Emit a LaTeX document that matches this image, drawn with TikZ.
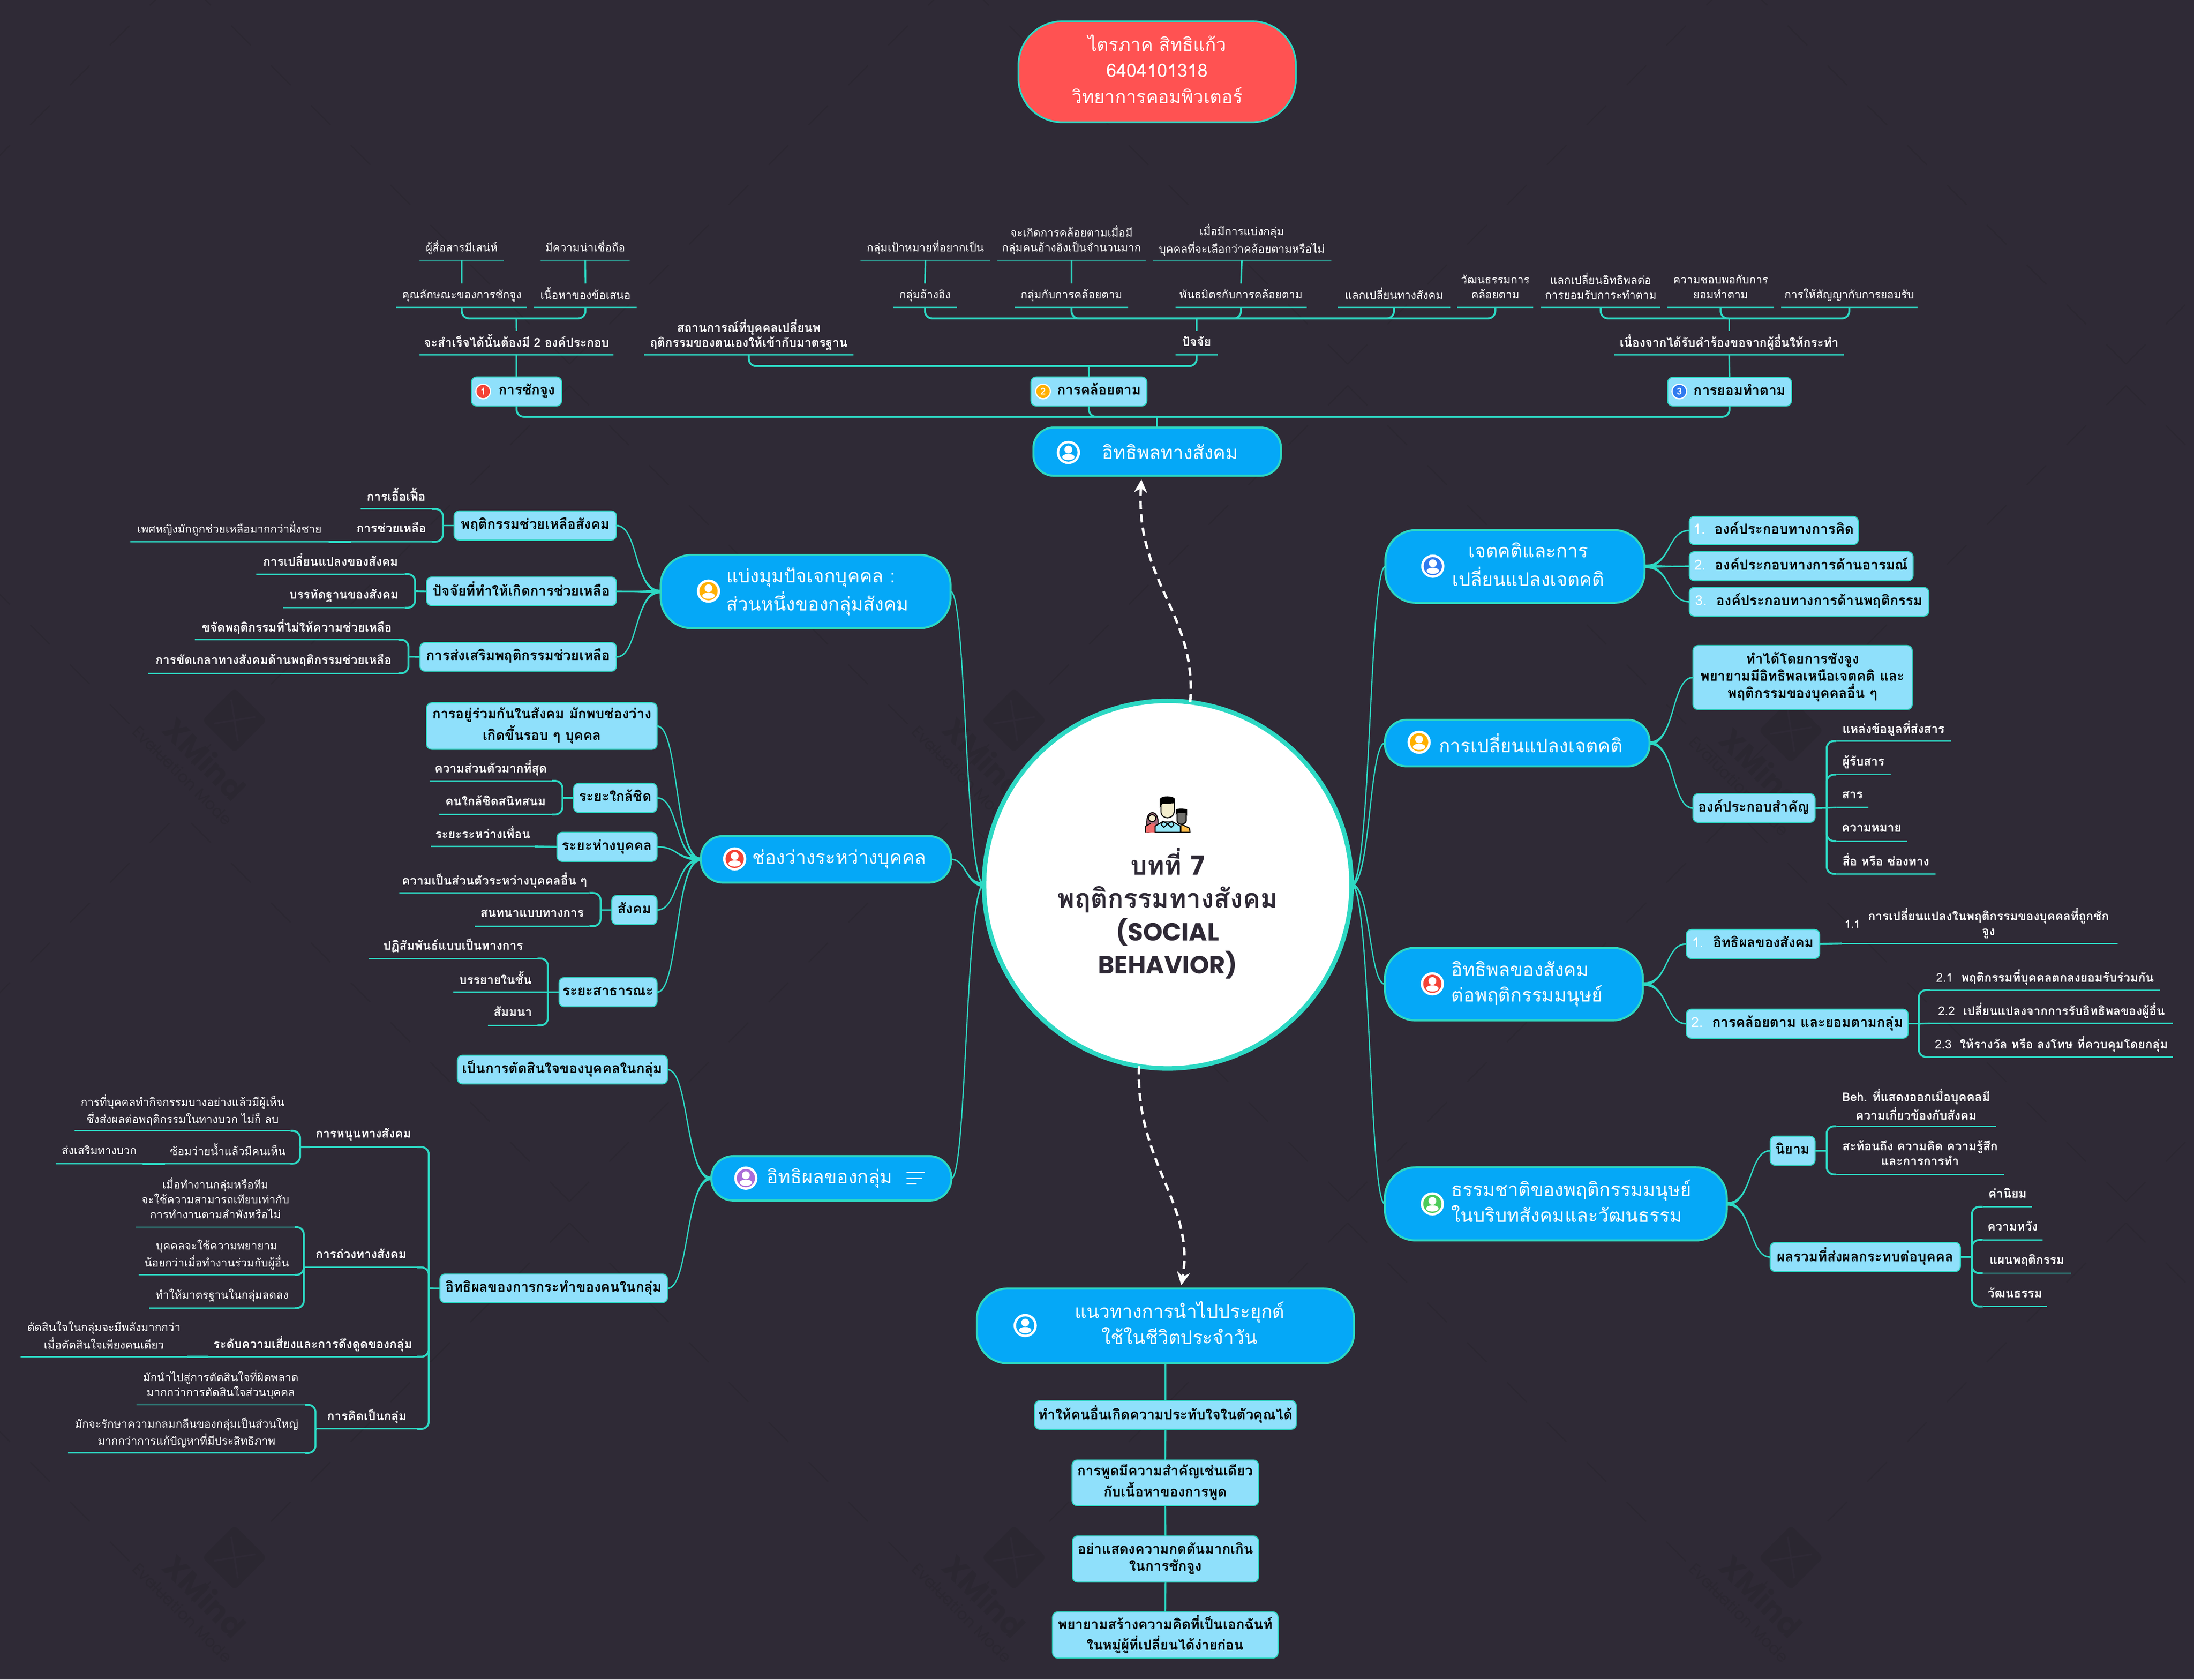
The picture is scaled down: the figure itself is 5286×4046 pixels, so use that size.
\documentclass[tikz,border=0pt]{standalone}
\usepackage{fontspec}
\usetikzlibrary{arrows.meta,calc}
\setmainfont[Script=Thai]{Loma}
\newfontfamily\popp{Poppins}
\definecolor{bgc}{HTML}{2F2A36}
\definecolor{wmc}{HTML}{2B2731}
\definecolor{tl}{HTML}{2DD8C3}
\definecolor{mainc}{HTML}{05A8F7}
\definecolor{boxc}{HTML}{8FE0FB}
\definecolor{redc}{HTML}{FF5252}
\definecolor{ic1}{HTML}{F44336}
\definecolor{ic2}{HTML}{FFB000}
\definecolor{ic3}{HTML}{2F7BEF}
\definecolor{ic4}{HTML}{4CCB5A}
\definecolor{ic5}{HTML}{AB6DD8}
\newcommand\fsleaf{\fontsize{7.6}{10.24}\selectfont}
\newcommand\fsleafb{\fontsize{8.3}{10.24}\selectfont}
\newcommand\fsbox{\fontsize{9.5}{11.7}\selectfont}
\newcommand\fsmain{\fontsize{12.8}{17.6}\selectfont}
\tikzset{
 every node/.style={inner sep=0pt,outer sep=0pt},
 link/.style={draw=tl,line width=1.1pt},
 brk/.style={draw=tl,line width=1.3pt,rounded corners=5pt},
 ul/.style={draw=tl,line width=.85pt},
 lfr/.style={text=white,align=center,font=\fsleaf},
 lfb/.style={text=white,align=center,font=\fsleafb\bfseries},
 boxs/.style={fill=boxc,draw=tl,line width=.7pt,rounded corners=3.5pt,text=black,align=center,font=\fsbox\bfseries},
 mains/.style={fill=mainc,draw=tl,line width=1.4pt},
 mt/.style={text=white,font=\fsmain},
 dashlink/.style={draw=white,line width=1.7pt,dash pattern=on 5.6pt off 3.6pt,-{Stealth[length=9pt,width=9pt]}},
 badge/.style={circle,draw=white,line width=.8pt,minimum size=10pt,text=white,font=\fontsize{6.5}{7}\selectfont\bfseries},
}
% name x1 x2 yunderline nlines text
\newcommand\leaf[7][lfr]{%
 \node[#1,anchor=south,minimum width={(#4-#3)*0.28453pt},minimum height={(22+36*#6)*0.28453pt}] (#2) at ({(#3+#4)/2},#5) {\strut#7\strut};
 \draw[ul] (#2.south west) -- (#2.south east);}
% name x1 y1 x2 y2 text
\newcommand\bx[6]{%
 \node[boxs,minimum width={(#4-#2)*0.28453pt},minimum height={(#5-#3)*0.28453pt}] (#1) at ({(#2+#4)/2},{(#3+#5)/2}) {\strut#6\strut};}
% name x1 y1 x2 y2 radius(pt)
\newcommand\mainb[6]{%
 \node[mains,rounded corners=#6,minimum width={(#4-#2)*0.28453pt},minimum height={(#5-#3)*0.28453pt}] (#1) at ({(#2+#4)/2},{(#3+#5)/2}) {};}
% tapered curve: A B dx half
\newcommand\lnk[4]{%
 \path[fill=tl,draw=tl,line width=.8pt] ([shift={(0,-#4)}]#1) .. controls ([shift={({0.6*(#3)},0)}]#1) and ([shift={({-0.5*(#3)},0)}]#2) .. ([shift={(0,-.5)}]#2) -- ([shift={(0,.5)}]#2) .. controls ([shift={({-0.5*(#3)},0)}]#2) and ([shift={({0.6*(#3)},0)}]#1) .. ([shift={(0,#4)}]#1) -- cycle;}
\newcommand\usericon[3]{%
 \begin{scope}[shift={(#1,#2)}]
 \fill[white] (0,0) circle[radius=28];
 \fill[#3] (0,0) circle[radius=22];
 \fill[white] (0,-7) circle[radius=9.5];
 \fill[white] (0,11) ellipse[x radius=15,y radius=7.5];
 \end{scope}}
\newcommand\wmark[2]{%
 \begin{scope}[shift={(#1,#2)}]
 \fill[wmc,rounded corners=3pt,rotate=45] (-55,-55) rectangle (55,55);
 \draw[bgc,line width=1.2pt] (-8,-50) -- (8,50);
 \draw[bgc,line width=1.2pt] (-50,8) -- (50,-8);
 \node[text=wmc,rotate=-45,font=\popp\fontsize{21}{24}\selectfont\bfseries] (wx#1#2) at (-71,92) {XMind};
 \node[text=wmc,rotate=-45,font=\popp\fontsize{11}{13}\selectfont] (wy#1#2) at (-125,133) {Evaluation Mode};
 \end{scope}}
\begin{document}
\begin{tikzpicture}[x=0.01cm,y=-0.01cm]
\useasboundingbox (0,0) rectangle (5286,4046);
\fill[bgc] (0,0) rectangle (5286,4046);
\begin{scope}
\clip (0,0) rectangle (5286,4046);
\foreach \i in {-1,0,1,2}{\foreach \j in {-1,0,1}{
 \pgfmathsetmacro\cx{1372+1875*\i}
 \pgfmathsetmacro\cy{908+2017*\j}
 \foreach \k in {0,...,9}{
  \pgfmathsetmacro\a{96*\k}
  \pgfmathsetmacro\b{96*\k+47}
  \draw[wmc,line width=.8pt] (\cx-\a,\cy-31-\a) -- (\cx-\b,\cy-31-\b);
  \draw[wmc,line width=.8pt] (\cx+\a,\cy-31-\a) -- (\cx+\b,\cy-31-\b);
  \draw[wmc,line width=.8pt] (\cx-\a,\cy+21+\a) -- (\cx-\b,\cy+21+\b);
  \draw[wmc,line width=.8pt] (\cx+\a,\cy+21+\a) -- (\cx+\b,\cy+21+\b);
 }}}
\wmark{565}{1735}\wmark{2443}{1735}\wmark{4315}{1760}
\wmark{565}{3752}\wmark{2443}{3752}\wmark{4315}{3752}
\end{scope}
% ---------- title
\node[fill=redc,draw=tl,line width=1.2pt,rounded corners=30pt,minimum width={668*0.28453pt},minimum height={243*0.28453pt},text=white,align=center,font=\fontsize{12.5}{17.9}\selectfont] (title) at (2788,173) {\strut ไตรภาค สิทธิแก้ว\\6404101318\\วิทยาการคอมพิวเตอร์\strut};
% ---------- root
\node[circle,fill=white,draw=tl,line width=3.1pt,minimum size={885*0.28453pt}] (root) at (2813.5,2131) {};
\node[text=bgc,align=center,font=\fontsize{18}{22.6}\selectfont\bfseries] (roottxt) at (2813,2206) {\strut บทที่ {\popp 7}\\พฤติกรรมทางสังคม\\{\popp\fontsize{17}{22.6}\selectfont (SOCIAL}\\{\popp\fontsize{17}{22.6}\selectfont BEHAVIOR)}\strut};
% root icon
\begin{scope}[line width=.7pt,draw=black,line join=round]
 \filldraw[fill={rgb,255:red,160;green,104;blue,122}] (2763,2005) -- (2763,1980) .. controls (2763,1950) and (2790,1950) .. (2790,1980) -- (2790,2000) -- cycle;
 \fill[fill={rgb,255:red,242;green,107;blue,107}] (2760,2005) -- (2760,1990) -- (2772,1984) -- (2782,1984) -- (2786,2005) -- cycle;
 \draw (2760,2005) -- (2760,1990) -- (2772,1984);
 \filldraw[fill={rgb,255:red,245;green,237;blue,205}] (2776,1971) circle[radius=8.5];
 \filldraw[fill={rgb,255:red,112;green,112;blue,108}] (2836,1955) -- (2836,1978) .. controls (2838,1988) and (2854,1988) .. (2858,1978) -- (2858,1955) -- cycle;
 \fill[black] (2833,1963) -- (2833,1950) .. controls (2835,1947) and (2855,1947) .. (2860,1950) -- (2860,1965) -- (2856,1958) -- (2836,1958) -- cycle;
 \filldraw[fill={rgb,255:red,255;green,192;blue,77}] (2845,2005) -- (2845,1985) -- (2866,1995) -- (2867,2005) -- cycle;
 \filldraw[fill={rgb,255:red,152;green,232;blue,248}] (2783,2005) -- (2783,1990) -- (2800,1980) -- (2826,1980) -- (2844,1990) -- (2844,2005) -- cycle;
 \draw (2813,1985) -- (2802,1978) -- (2798,1987) -- (2804,1993) -- (2813,1985) -- (2824,1978) -- (2828,1987) -- (2822,1993) -- cycle;
 \filldraw[fill={rgb,255:red,243;green,237;blue,205}] (2797,1932) -- (2797,1955) .. controls (2798,1975) and (2827,1975) .. (2829,1955) -- (2829,1932) -- cycle;
 \fill[black] (2794,1946) -- (2794,1925) .. controls (2800,1915) and (2828,1917) .. (2831,1925) -- (2831,1946) -- (2828,1935) -- (2800,1937) -- cycle;
\end{scope}
% ---------- main nodes
\mainb{mT}{2490}{1030}{3086}{1146}{14pt}
\mainb{mR1}{3338}{1277}{3962}{1452}{21pt}
\mainb{mR2}{3337}{1734}{3974}{1846}{15pt}
\mainb{mR3}{3337}{2283}{3958}{2458}{21pt}
\mainb{mR4}{3337}{2812}{4160}{2988}{21pt}
\mainb{mL1}{1592}{1337}{2290}{1513}{21pt}
\mainb{mL2}{1689}{2014}{2291}{2126}{15pt}
\mainb{mL3}{1714}{2785}{2292}{2892}{15pt}
\mainb{mB}{2354}{3104}{3262}{3284}{21pt}
\node[mt] (mTt) at (2819,1088) {อิทธิพลทางสังคม};
\node[mt,align=center] (mR1t) at (3682,1365) {\strut เจตคติและการ\\เปลี่ยนแปลงเจตคติ\strut};
\node[mt] (mR2t) at (3688,1790) {การเปลี่ยนแปลงเจตคติ};
\node[mt,align=left,anchor=west] (mR3t) at (3497,2370) {\strut อิทธิพลของสังคม\\ต่อพฤติกรรมมนุษย์\strut};
\node[mt,align=left,anchor=west] (mR4t) at (3497,2900) {\strut ธรรมชาติของพฤติกรรมมนุษย์\\ในบริบทสังคมและวัฒนธรรม\strut};
\node[mt,align=left,anchor=west] (mL1t) at (1750,1425) {\strut แบ่งมุมปัจเจกบุคคล :\\ส่วนหนึ่งของกลุ่มสังคม\strut};
\node[mt] (mL2t) at (2022,2070) {ช่องว่างระหว่างบุคคล};
\node[mt] (mL3t) at (1999,2838) {อิทธิผลของกลุ่ม};
\node[mt,align=center] (mBt) at (2842,3194) {\strut แนวทางการนำไปประยุกต์\\ใช้ในชีวิตประจำวัน\strut};
\usericon{2574}{1090}{mainc}
\usericon{3452}{1364}{ic3}
\usericon{3419}{1788}{ic2}
\usericon{3451}{2370}{ic1}
\usericon{3451}{2900}{ic4}
\usericon{1707}{1424}{ic2}
\usericon{1770}{2069}{ic1}
\usericon{1797}{2838}{ic5}
\usericon{2470}{3193}{mainc}
\draw[white,line width=.9pt] (2184,2824) -- (2228,2824) (2184,2838) -- (2222,2838) (2184,2852) -- (2208,2852);
% ---------- top branch
\bx{n1}{1136}{908}{1353}{978}{\hspace*{14pt}การชักจูง}
\bx{n2}{2484}{908}{2763}{978}{\hspace*{14pt}การคล้อยตาม}
\bx{n3}{4018}{909}{4316}{978}{\hspace*{14pt}การยอมทำตาม}
\node[badge,fill=ic1] (b1) at (1164,943) {1};
\node[badge,fill=ic2] (b2) at (2513,943) {2};
\node[badge,fill=ic3] (b3) at (4046,943) {3};
\coordinate (tj) at (2788,1004);
\draw[link] (mT.north) -- (tj);
\draw[brk] (n1.south) |- (tj);
\draw[brk] (n2.south) |- (tj);
\draw[brk] (n3.south) |- (tj);
% node 1
\leaf[lfb]{a0}{1011}{1478}{855}{1}{จะสำเร็จได้นั้นต้องมี 2 องค์ประกอบ}
\leaf{a1}{955}{1270}{741}{1}{คุณลักษณะของการชักจูง}
\leaf{a2}{1287}{1534}{741}{1}{เนื้อหาของข้อเสนอ}
\leaf{a3}{1011}{1214}{627}{1}{ผู้สื่อสารมีเสน่ห์}
\leaf{a4}{1303}{1517}{627}{1}{มีความน่าเชื่อถือ}
\coordinate (aj) at (1244,767);
\draw[link] (n1.north) -- (a0.south);
\draw[link] (a0.north) -- (aj);
\draw[brk] (a1.south) |- (aj);
\draw[brk] (a2.south) |- (aj);
\draw[link] (a1.north) -- (a3.south);
\draw[link] (a2.north) -- (a4.south);
% node 2
\leaf[lfb]{c0}{1552}{2056}{855}{2}{สถานการณ์ที่บุคคลเปลี่ยนพ\\ฤติกรรมของตนเองให้เข้ากับมาตรฐาน}
\leaf[lfb]{c1}{2832}{2934}{855}{1}{ปัจจัย}
\coordinate (cj) at (2623,882);
\draw[link] (n2.north) -- (cj);
\draw[brk] (c0.south) |- (cj);
\draw[brk] (c1.south) |- (cj);
\coordinate (dj) at (2883,767);
\draw[link] (c1.north) -- (dj);
\leaf{d1}{2151}{2306}{741}{1}{กลุ่มอ้างอิง}
\leaf{d2}{2445}{2718}{741}{1}{กลุ่มกับการคล้อยตาม}
\leaf{d3}{2832}{3148}{741}{1}{พันธมิตรกับการคล้อยตาม}
\leaf{d4}{3223}{3494}{741}{1}{แลกเปลี่ยนทางสังคม}
\leaf{d5}{3511}{3694}{741}{2}{วัฒนธรรมการ\\คล้อยตาม}
\draw[brk] (d1.south) |- (dj);
\draw[brk] (d2.south) |- (dj);
\draw[brk] (d3.south) |- (dj);
\draw[brk] (d4.south) |- (dj);
\draw[brk] (d5.south) |- (dj);
\leaf{e1}{2073}{2386}{627}{1}{กลุ่มเป้าหมายที่อยากเป็น}
\leaf{e2}{2403}{2760}{627}{2}{จะเกิดการคล้อยตามเมื่อมี\\กลุ่มคนอ้างอิงเป็นจำนวนมาก}
\leaf{e3}{2777}{3207}{627}{2}{เมื่อมีการแบ่งกลุ่ม\\บุคคลที่จะเลือกว่าคล้อยตามหรือไม่}
\draw[link] (d1.north) -- (e1.south);
\draw[link] (d2.north) -- (e2.south);
\draw[link] (d3.north) -- (e3.south);
% node 3
\leaf[lfb]{g0}{3890}{4442}{855}{1}{เนื่องจากได้รับคำร้องขอจากผู้อื่นให้กระทำ}
\coordinate (gj) at (4166,767);
\draw[link] (n3.north) -- (g0.south);
\draw[link] (g0.north) -- (gj);
\leaf{g1}{3713}{4000}{741}{2}{แลกเปลี่ยนอิทธิพลต่อ\\การยอมรับการะทำตาม}
\leaf{g2}{4017}{4274}{741}{2}{ความชอบพอกับการ\\ยอมทำตาม}
\leaf{g3}{4291}{4620}{741}{1}{การให้สัญญากับการยอมรับ}
\draw[brk] (g1.south) |- (gj);
\draw[brk] (g2.south) |- (gj);
\draw[brk] (g3.south) |- (gj);
\draw[dashlink] (root.83) .. controls (2885,1480) and (2735,1400) .. ([shift={(-38,9)}]mT.south);
\draw[dashlink] (root.261) .. controls (2735,2800) and (2880,2900) .. ([shift={(38,-8)}]mB.north);
% ---------- root links
\lnk{root.east}{mR1.west}{78}{2}
\lnk{root.east}{mR2.west}{77}{2}
\lnk{root.east}{mR3.west}{77}{2}
\lnk{root.east}{mR4.west}{77}{2}
\lnk{root.west}{mL1.east}{-77}{2}
\lnk{root.west}{mL2.east}{-76}{5}
\lnk{root.west}{mL3.east}{-75}{2}
% ---------- R1
\bx{r11}{4070}{1244}{4477}{1312}{{\color{white}\mdseries 1.}\ \ องค์ประกอบทางการคิด}
\bx{r12}{4070}{1329}{4609}{1399}{{\color{white}\mdseries 2.}\ \ องค์ประกอบทางการด้านอารมณ์}
\bx{r13}{4070}{1415}{4647}{1484}{{\color{white}\mdseries 3.}\ \ องค์ประกอบทางการด้านพฤติกรรม}
\lnk{mR1.east}{r11.west}{108}{3}
\lnk{mR1.east}{r12.west}{108}{3}
\lnk{mR1.east}{r13.west}{108}{3}
% ---------- R2
\bx{r21}{4079}{1555}{4607}{1709}{ทำได้โดยการชังจูง\\พยายามมีอิทธิพลเหนือเจตคติ และ\\พฤติกรรมของบุคคลอื่น ๆ}
\bx{r22}{4079}{1912}{4373}{1981}{องค์ประกอบสำคัญ}
\lnk{mR2.east}{r21.west}{105}{3}
\lnk{mR2.east}{r22.west}{105}{3}
\leaf[lfb]{r2a}{4424}{4700}{1785}{1}{แหล่งข้อมูลที่ส่งสาร}
\leaf[lfb]{r2b}{4424}{4555}{1866}{1}{ผู้รับสาร}
\leaf[lfb]{r2c}{4424}{4502}{1945}{1}{สาร}
\leaf[lfb]{r2d}{4424}{4594}{2026}{1}{ความหมาย}
\leaf[lfb]{r2e}{4424}{4663}{2105}{1}{สื่อ หรือ ช่องทาง}
\coordinate (r2j) at (4401,1946);
\draw[link] (r22.east) -- (r2j);
\draw[brk] (r2a.south west) -| (r2j);
\draw[brk] (r2b.south west) -| (r2j);
\draw[link] (r2c.south west) -- (r2j);
\draw[brk] (r2d.south west) -| (r2j);
\draw[brk] (r2e.south west) -| (r2j);
% ---------- R3
\bx{r31}{4063}{2239}{4384}{2309}{{\color{white}\mdseries 1.}\ \ อิทธิผลของสังคม}
\bx{r32}{4063}{2431}{4597}{2501}{{\color{white}\mdseries 2.}\ \ การคล้อยตาม และยอมตามกลุ่ม}
\lnk{mR3.east}{r31.west}{105}{3}
\lnk{mR3.east}{r32.west}{105}{3}
\leaf[lfb]{r31a}{4437}{5102}{2273}{2}{}
\node[lfr] (r31n) at (4463,2226) {1.1};
\node[lfb] (r31t) at (4791,2226) {\strut การเปลี่ยนแปลงในพฤติกรรมของบุคคลที่ถูกชัก\\จูง\strut};
\draw[link,line width=1.4pt] (r31.east) -- (r31a.south west);
\leaf[lfb]{r32a}{4650}{5204}{2385}{1}{{\mdseries 2.1}\ \ พฤติกรรมที่บุคคลตกลงยอมรับร่วมกัน}
\leaf[lfb]{r32b}{4650}{5235}{2465}{1}{{\mdseries 2.2}\ \ เปลี่ยนแปลงจากการรับอิทธิพลของผู้อื่น}
\leaf[lfb]{r32c}{4650}{5235}{2546}{1}{{\mdseries 2.3}\ \ ให้รางวัล หรือ ลงโทษ ที่ควบคุมโดยกลุ่ม}
\coordinate (r3j) at (4623,2466);
\draw[link] (r32.east) -- (r3j);
\draw[brk] (r32a.south west) -| (r3j);
\draw[link] (r32b.south west) -- (r3j);
\draw[brk] (r32c.south west) -| (r3j);
% ---------- R4
\bx{r41}{4265}{2737}{4373}{2807}{นิยาม}
\bx{r42}{4265}{2993}{4723}{3063}{ผลรวมที่ส่งผลกระทบต่อบุคคล}
\lnk{mR4.east}{r41.west}{105}{3}
\lnk{mR4.east}{r42.west}{105}{3}
\leaf[lfb]{r41a}{4424}{4809}{2713}{2}{Beh. ที่แสดงออกเมื่อบุคคลมี\\ความเกี่ยวข้องกับสังคม}
\leaf[lfb]{r41b}{4424}{4828}{2829}{2}{สะท้อนถึง ความคิด ความรู้สึก\\และการการทำ}
\coordinate (r41j) at (4401,2772);
\draw[link] (r41.east) -- (r41j);
\draw[brk] (r41a.south west) -| (r41j);
\draw[brk] (r41b.south west) -| (r41j);
\leaf[lfb]{r42a}{4777}{4896}{2907}{1}{ค่านิยม}
\leaf[lfb]{r42b}{4777}{4921}{2987}{1}{ความหวัง}
\leaf[lfb]{r42c}{4777}{4990}{3067}{1}{แผนพฤติกรรม}
\leaf[lfb]{r42d}{4777}{4932}{3147}{1}{วัฒนธรรม}
\coordinate (r42j) at (4751,3028);
\draw[link] (r42.east) -- (r42j);
\draw[brk] (r42a.south west) -| (r42j);
\draw[brk] (r42b.south west) -| (r42j);
\draw[brk] (r42c.south west) -| (r42j);
\draw[brk] (r42d.south west) -| (r42j);
% ---------- L1
\bx{l11}{1094}{1231}{1485}{1301}{พฤติกรรมช่วยเหลือสังคม}
\bx{l12}{1028}{1390}{1485}{1459}{ปัจจัยที่ทำให้เกิดการช่วยเหลือ}
\bx{l13}{1012}{1548}{1485}{1617}{การส่งเสริมพฤติกรรมช่วยเหลือ}
\lnk{mL1.west}{l11.east}{-107}{3}
\lnk{mL1.west}{l12.east}{-107}{3}
\lnk{mL1.west}{l13.east}{-107}{3}
\leaf[lfb]{l11a}{869}{1040}{1226}{1}{การเอื้อเฟื้อ}
\leaf[lfb]{l11b}{846}{1040}{1305}{1}{การช่วยเหลือ}
\leaf{l11c}{314}{792}{1305}{1}{เพศหญิงมักถูกช่วยเหลือมากกว่าฝั่งชาย}
\draw[link,line width=1.4pt] (l11c.south east) -- (l11b.south west);
\coordinate (l11j) at (1067,1266);
\draw[link] (l11.west) -- (l11j);
\draw[brk] (l11a.south east) -| (l11j);
\draw[brk] (l11b.south east) -| (l11j);
\leaf[lfb]{l12a}{618}{975}{1383}{1}{การเปลี่ยนแปลงของสังคม}
\leaf[lfb]{l12b}{682}{975}{1464}{1}{บรรทัดฐานของสังคม}
\coordinate (l12j) at (1000,1424);
\draw[link] (l12.west) -- (l12j);
\draw[brk] (l12a.south east) -| (l12j);
\draw[brk] (l12b.south east) -| (l12j);
\leaf[lfb]{l13a}{470}{960}{1541}{1}{ขจัดพฤติกรรมที่ไม่ให้ความช่วยเหลือ}
\leaf[lfb]{l13b}{358}{960}{1622}{1}{การขัดเกลาทางสังคมด้านพฤติกรรมช่วยเหลือ}
\coordinate (l13j) at (984,1582);
\draw[link] (l13.west) -- (l13j);
\draw[brk] (l13a.south east) -| (l13j);
\draw[brk] (l13b.south east) -| (l13j);
% ---------- L2
\bx{l21}{1028}{1693}{1583}{1805}{การอยู่ร่วมกันในสังคม มักพบช่องว่าง\\เกิดขึ้นรอบ ๆ บุคคล}
\bx{l22}{1382}{1887}{1583}{1957}{ระยะใกล้ชิด}
\bx{l23}{1342}{2005}{1583}{2075}{ระยะห่างบุคคล}
\bx{l24}{1474}{2157}{1583}{2227}{สังคม}
\bx{l25}{1347}{2355}{1583}{2425}{ระยะสาธารณะ}
\lnk{mL2.west}{l21.east}{-106}{3}
\lnk{mL2.west}{l22.east}{-106}{3}
\lnk{mL2.west}{l23.east}{-106}{3}
\lnk{mL2.west}{l24.east}{-106}{3}
\lnk{mL2.west}{l25.east}{-106}{3}
\leaf[lfb]{l22a}{1035}{1330}{1881}{1}{ความส่วนตัวมากที่สุด}
\leaf[lfb]{l22b}{1058}{1330}{1962}{1}{คนใกล้ชิดสนิทสนม}
\coordinate (l22j) at (1355,1922);
\draw[link] (l22.west) -- (l22j);
\draw[brk] (l22a.south east) -| (l22j);
\draw[brk] (l22b.south east) -| (l22j);
\leaf[lfb]{l23a}{1038}{1288}{2039}{1}{ระยะระหว่างเพื่อน}
\draw[link,line width=1.4pt] (l23.west) -- (l23a.south east);
\leaf[lfb]{l24a}{962}{1420}{2151}{1}{ความเป็นส่วนตัวระหว่างบุคคลอื่น ๆ}
\leaf[lfb]{l24b}{1144}{1420}{2231}{1}{สนทนาแบบทางการ}
\coordinate (l24j) at (1447,2192);
\draw[link] (l24.west) -- (l24j);
\draw[brk] (l24a.south east) -| (l24j);
\draw[brk] (l24b.south east) -| (l24j);
\leaf[lfb]{l25a}{889}{1295}{2309}{1}{ปฏิสัมพันธ์แบบเป็นทางการ}
\leaf[lfb]{l25b}{1092}{1295}{2390}{1}{บรรยายในชั้น}
\leaf[lfb]{l25c}{1176}{1295}{2470}{1}{สัมมนา}
\coordinate (l25j) at (1320,2390);
\draw[link] (l25.west) -- (l25j);
\draw[brk] (l25a.south east) -| (l25j);
\draw[link] (l25b.south east) -- (l25j);
\draw[brk] (l25c.south east) -| (l25j);
% ---------- L3
\bx{l31}{1102}{2542}{1608}{2611}{เป็นการตัดสินใจของบุคคลในกลุ่ม}
\bx{l32}{1060}{3069}{1608}{3138}{อิทธิผลของการกระทำของคนในกลุ่ม}
\lnk{mL3.west}{l31.east}{-106}{3}
\lnk{mL3.west}{l32.east}{-106}{3}
\coordinate (l3j) at (1033,3103);
\draw[link] (l32.west) -- (l3j);
\leaf[lfb]{p1}{746}{1005}{2763}{1}{การหนุนทางสังคม}
\leaf[lfb]{p2}{735}{1005}{3053}{1}{การถ่วงทางสังคม}
\leaf[lfb]{p3}{502}{1005}{3268}{1}{ระดับความเสี่ยงและการดึงดูดของกลุ่ม}
\leaf[lfb]{p4}{763}{1005}{3442}{1}{การคิดเป็นกลุ่ม}
\draw[brk] (p1.south east) -| (l3j);
\draw[brk] (p2.south east) -| (l3j);
\draw[brk] (p3.south east) -| (l3j);
\draw[brk] (p4.south east) -| (l3j);
\leaf{p1a}{180}{700}{2724}{2}{การที่บุคคลทำกิจกรรมบางอย่างแล้วมีผู้เห็น\\ซึ่งส่งผลต่อพฤติกรรมในทางบวก ไม่ก็ ลบ}
\leaf{p1b}{398}{700}{2803}{1}{ซ้อมว่ายน้ำแล้วมีคนเห็น}
\leaf{p1c}{134}{344}{2803}{1}{ส่งเสริมทางบวก}
\draw[link,line width=1.4pt] (p1c.south east) -- (p1b.south west);
\coordinate (p1j) at (723,2763);
\draw[link,line width=1.4pt] (p1.south west) -- (p1j);
\draw[brk] (p1a.south east) -| (p1j);
\draw[brk] (p1b.south east) -| (p1j);
\leaf{p2a}{328}{710}{2956}{3}{เมื่อทำงานกลุ่มหรือทีม\\จะใช้ความสามารถเทียบเท่ากับ\\การทำงานตามลำพังหรือไม่}
\leaf{p2b}{334}{710}{3071}{2}{บุคคลจะใช้ความพยายาม\\น้อยกว่าเมื่อทำงานร่วมกับผู้อื่น}
\leaf{p2c}{360}{710}{3151}{1}{ทำให้มาตรฐานในกลุ่มลดลง}
\coordinate (p2j) at (732,3053);
\draw[link,line width=1.4pt] (p2.south west) -- (p2j);
\draw[brk] (p2a.south east) -| (p2j);
\draw[brk] (p2b.south east) -| (p2j);
\draw[brk] (p2c.south east) -| (p2j);
\leaf{p3a}{50}{451}{3268}{2}{ตัดสินใจในกลุ่มจะมีพลังมากกว่า\\เมื่อตัดสินใจเพียงคนเดียว}
\draw[link,line width=1.4pt] (p3a.south east) -- (p3.south west);
\leaf{p4a}{329}{735}{3384}{2}{มักนำไปสู่การตัดสินใจที่ผิดพลาด\\มากกว่าการตัดสินใจส่วนบุคคล}
\leaf{p4b}{164}{735}{3500}{2}{มักจะรักษาความกลมกลืนของกลุ่มเป็นส่วนใหญ่\\มากกว่าการแก้ปัญหาที่มีประสิทธิภาพ}
\coordinate (p4j) at (760,3442);
\draw[link,line width=1.4pt] (p4.south west) -- (p4j);
\draw[brk] (p4a.south east) -| (p4j);
\draw[brk] (p4b.south east) -| (p4j);
% ---------- bottom
\bx{s1}{2493}{3374}{3123}{3443}{ทำให้คนอื่นเกิดความประทับใจในตัวคุณได้}
\bx{s2}{2583}{3517}{3032}{3627}{การพูดมีความสำคัญเช่นเดียว\\กับเนื้อหาของการพูด}
\bx{s3}{2584}{3700}{3032}{3811}{อย่าแสดงความกดดันมากเกิน\\ในการชักจูง}
\bx{s4}{2536}{3883}{3079}{3994}{พยายามสร้างความคิดที่เป็นเอกฉันท์\\ในหมู่ผู้ที่เปลี่ยนได้ง่ายก่อน}
\draw[link] (mB.south) -- (s1.north);
\draw[link] (s1.south) -- (s2.north);
\draw[link] (s2.south) -- (s3.north);
\draw[link] (s3.south) -- (s4.north);
\end{tikzpicture}
\end{document}
